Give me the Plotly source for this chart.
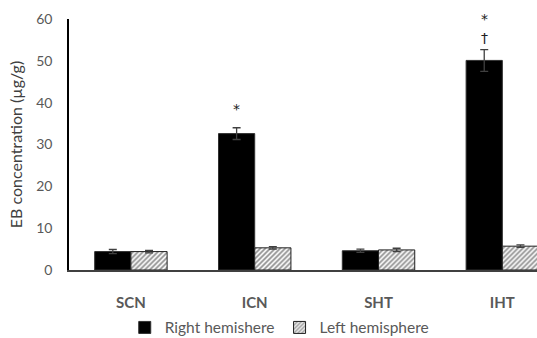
import plotly.graph_objects as go

categories = ["SCN", "ICN", "SHT", "IHT"]
right_vals = [4.4, 32.6, 4.6, 50.1]
right_err = [0.5, 1.4, 0.4, 2.6]
left_vals = [4.4, 5.3, 4.8, 5.7]
left_err = [0.3, 0.3, 0.4, 0.3]
y_ticks = [0, 10, 20, 30, 40, 50, 60]

# significance marks: (category, y value, symbol)
marks = [("ICN", 38.5, "*"), ("IHT", 60.0, "*"), ("IHT", 55.5, "†")]

FONT = "Lato, 'Open Sans', sans-serif"
GRAY = "#595959"

fig = go.Figure()
fig.add_trace(go.Bar(
    name="Right hemishere", x=categories, y=right_vals,
    marker=dict(color="black", line=dict(color="#303030", width=1)),
    error_y=dict(type="data", array=right_err, color="#404040", thickness=1.3, width=4),
))
fig.add_trace(go.Bar(
    name="Left hemisphere", x=categories, y=left_vals,
    marker=dict(color="white", line=dict(color="#202020", width=1),
                pattern=dict(shape="/", fgcolor="#202020", bgcolor="white",
                             size=3.5, solidity=0.5)),
    error_y=dict(type="data", array=left_err, color="#404040", thickness=1.3, width=4),
))

for cat, yv, sym in marks:
    fig.add_annotation(x=cat, y=yv, text=sym, showarrow=False, xshift=-18,
                       yanchor="middle",
                       font=dict(family="DejaVu Sans", size=14, color="#202020"))

fig.update_layout(
    width=537, height=338,
    margin=dict(l=69, r=0, t=19, b=68, autoexpand=False),
    plot_bgcolor="white", paper_bgcolor="white",
    barmode="group", bargap=0.415, bargroupgap=0,
    font=dict(family=FONT, color=GRAY),
    showlegend=True,
    legend=dict(orientation="h", xref="container", yref="container",
                x=0.52, xanchor="center", y=0.03, yanchor="middle",
                bgcolor="rgba(0,0,0,0)",
                font=dict(family=FONT, size=15.5, color=GRAY),
                itemwidth=30, traceorder="normal"),
)
fig.update_xaxes(
    range=[-0.5, 3.28], showline=True, linecolor="#404040", linewidth=1.5,
    ticks="", ticklabelstandoff=18, automargin=False,
    tickfont=dict(family=FONT, size=15, color=GRAY, weight="bold"),
    showgrid=False,
)
fig.update_yaxes(
    range=[0, 60], tickvals=y_ticks, showline=True, linecolor="black", linewidth=1.5,
    ticks="", ticklabelstandoff=12, showgrid=False, zeroline=False, automargin=False,
    tickfont=dict(family=FONT, size=14, color=GRAY),
    title=dict(text="EB concentration (µg/g)", standoff=10,
               font=dict(family=FONT, size=16, color="#404040")),
)

fig.write_html("out.html")
